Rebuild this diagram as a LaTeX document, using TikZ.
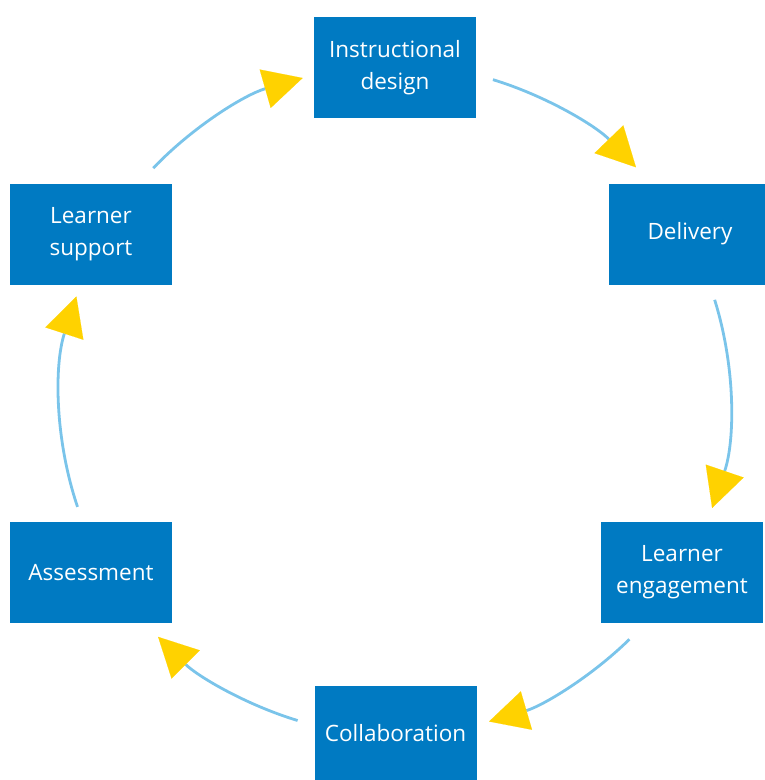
\documentclass[tikz,border=0pt]{standalone}
\usepackage{fontspec}
\setmainfont{Open Sans}
\usetikzlibrary{arrows.meta}
\definecolor{boxblue}{RGB}{0,122,194}
\definecolor{arcblue}{RGB}{122,196,234}
\definecolor{tipyellow}{RGB}{255,210,0}
\tikzset{
  stage/.style={fill=boxblue, text=white, minimum width=162pt, minimum height=101pt,
    align=center, inner sep=0pt, font=\fontsize{22.5}{32}\selectfont},
  flow/.style={draw=arcblue, line width=2.8pt,
    -{Triangle[length=39pt,width=40pt,color=tipyellow,line width=0.1pt]}}
}

\begin{document}
\begin{tikzpicture}[x=1pt,y=1pt]
	\useasboundingbox (0,0) rectangle (765,-780);
	\clip (0,0) rectangle (765,-780);
	
	% stages of the cycle
	\node[stage] (design) at (395,-67.5) {Instructional\\design};
	\node[stage] (delivery) at (690,-234) {Delivery};
	\node[stage] (engage) at (682,-572.5) {Learner\\engagement};
	\node[stage, minimum height=94pt] (collab) at (395.5,-733) {Collaboration};
	\node[stage] (assess) at (91,-572.5) {Assessment};
	\node[stage] (support) at (91,-234) {Learner\\support};
	
	% arcs round the centre
	\coordinate (ctr) at (395,-400);
	\foreach \a/\b in {73/44, 17.4/-18.8, -45.6/-73.7, -106.9/-135, 198.6/162, 136.2/106}
		\draw[flow] ([shift={(\a:335)}]ctr) arc[start angle=\a, end angle=\b, radius=335];
\end{tikzpicture}
\end{document}
